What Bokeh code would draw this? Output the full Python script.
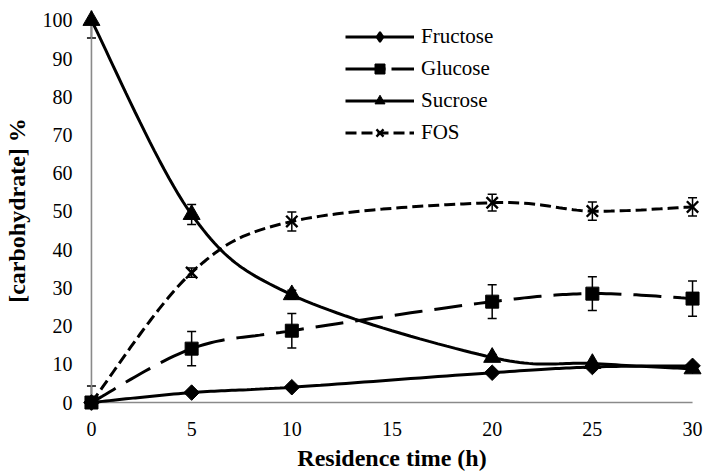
import numpy as np
from bokeh.plotting import figure
from bokeh.models import (Range1d, FixedTicker, ColumnDataSource, Whisker, TeeHead,
                          Legend, LegendItem)
from bokeh.embed import file_html
from bokeh.resources import INLINE

# ---- data ----
time_h = [0, 5, 10, 20, 25, 30]
fructose = [0.0, 2.6, 4.0, 7.8, 9.3, 9.6]
fructose_err = [0.3, 0.4, 0.4, 0.4, 0.4, 0.4]
glucose = [0.0, 14.1, 18.8, 26.4, 28.5, 27.2]
glucose_err = [4.3, 4.5, 4.5, 4.4, 4.4, 4.6]
sucrose = [100.0, 49.2, 28.2, 11.8, 10.2, 8.8]
sucrose_err = [4.6, 2.6, 1.2, 0.8, 0.5, 0.5]
fos = [0.0, 34.0, 47.4, 52.3, 50.1, 51.2]
fos_err = [0.0, 1.2, 2.5, 2.2, 2.4, 2.4]

x_ticks = [0, 5, 10, 15, 20, 25, 30]
y_ticks = [0, 10, 20, 30, 40, 50, 60, 70, 80, 90, 100]
x_axis_span = [0, 30]
y_axis_span = [0, 100]

FONT = "'Liberation Serif', 'Times New Roman', serif"
NO_DATA = dict(x=[np.nan], y=[np.nan])   # for legend-only samples


def smooth(xs, ys, n=24):
    """Excel-like smoothed line (cardinal Bezier through the data points)."""
    P = np.column_stack([xs, ys]).astype(float)
    m = len(P)
    out = []
    for i in range(m - 1):
        p0 = P[i - 1] if i > 0 else P[i]
        p1 = P[i]
        p2 = P[i + 1]
        p3 = P[i + 2] if i + 2 < m else P[i + 1]
        c1 = p1 + (p2 - p0) / 6.0
        c2 = p2 - (p3 - p1) / 6.0
        t = np.linspace(0, 1, n, endpoint=(i == m - 2))[:, None]
        seg = ((1 - t) ** 3) * p1 + 3 * ((1 - t) ** 2) * t * c1 + 3 * (1 - t) * t ** 2 * c2 + t ** 3 * p2
        out.append(seg)
    arr = np.vstack(out)
    return arr[:, 0], arr[:, 1]


p = figure(width=705, height=473,
           x_range=Range1d(-0.497, 30.497), y_range=Range1d(-2.09, 102.61),
           output_backend="svg", toolbar_location=None,
           min_border_left=78, min_border_right=3, min_border_top=10, min_border_bottom=62)
p.background_fill_color = "white"
p.border_fill_color = "white"
p.outline_line_color = None
p.xgrid.visible = False
p.ygrid.visible = False

# axes
for ax in (p.xaxis, p.yaxis):
    ax.axis_line_color = None
    ax.major_tick_line_color = None
    ax.minor_tick_line_color = None
    ax.major_tick_out = 0
    ax.major_tick_in = 0
    ax.major_label_text_font = FONT
    ax.major_label_text_font_size = "20px"
    ax.major_label_text_color = "black"
    ax.axis_label_text_font = FONT
    ax.axis_label_text_font_size = "24px"
    ax.axis_label_text_font_style = "bold"
    ax.axis_label_text_color = "black"

p.xaxis.ticker = FixedTicker(ticks=x_ticks)
p.yaxis.ticker = FixedTicker(ticks=y_ticks)
p.xaxis.axis_label = "Residence time (h)"
p.yaxis.axis_label = "[carbohydrate] %"
p.xaxis.major_label_standoff = 11
p.yaxis.major_label_standoff = 9
p.xaxis.axis_label_standoff = 6
p.yaxis.axis_label_standoff = 10

# drawn axis lines at the data origin
p.line(x=x_axis_span, y=[0, 0], line_color="#8a8a8a", line_width=1.6)
p.line(x=[0, 0], y=y_axis_span, line_color="#8a8a8a", line_width=1.6)

# name, values, errors, plot dash, legend dash, marker, size, angle
series = [
    ("Fructose", fructose, fructose_err, "solid", "solid", "square", 11, 0.785398),
    ("Glucose", glucose, glucose_err, "28 12", "40 6", "square", 13, 0.0),
    ("Sucrose", sucrose, sucrose_err, "solid", "solid", "triangle", 17, 0.0),
    ("FOS", fos, fos_err, "11 5", "11 5", "x", 16, 0.0),
]

items = []
for name, vals, err, dash, leg_dash, marker, size, ang in series:
    src = ColumnDataSource(dict(x=time_h, y=vals,
                                lo=[v - e for v, e in zip(vals, err)],
                                hi=[v + e for v, e in zip(vals, err)]))
    w = Whisker(base="x", lower="lo", upper="hi", source=src,
                line_color="black", line_width=1.5,
                upper_head=TeeHead(size=9, line_width=1.5, line_color="black"),
                lower_head=TeeHead(size=9, line_width=1.5, line_color="black"))
    p.add_layout(w)
    sx, sy = smooth(time_h, vals)
    lr = p.line(x=sx, y=sy, line_color="black", line_width=3, line_dash=dash)
    leg_line = lr
    if leg_dash != dash:
        # legend sample styled like the reference legend (no data of its own)
        leg_line = p.line(x="x", y="y", source=ColumnDataSource(NO_DATA),
                          line_color="black", line_width=3, line_dash=leg_dash)
    if marker == "x":
        mr = p.scatter(x="x", y="y", source=src, marker="x", size=size,
                       line_color="black", line_width=2.4)
    else:
        mr = p.scatter(x="x", y="y", source=src, marker=marker, size=size, angle=ang,
                       fill_color="black", line_color="black", line_width=1)
    leg_marker = mr
    if ang != 0.0:
        # legend samples ignore the angle, so show a diamond there
        leg_marker = p.scatter(x="x", y="y", source=ColumnDataSource(NO_DATA),
                               marker="diamond", size=15, fill_color="black",
                               line_color="black", line_width=2)
    items.append(LegendItem(label=name, renderers=[leg_line, leg_marker]))

legend = Legend(items=items, location=(264, 265),
                glyph_width=69, glyph_height=25, label_height=25, spacing=7,
                label_standoff=7, padding=0, margin=0,
                label_text_font=FONT, label_text_font_size="21px",
                label_text_color="black",
                border_line_alpha=0, background_fill_alpha=0)
p.add_layout(legend, "center")

open("out.html", "w").write(file_html(p, INLINE))
